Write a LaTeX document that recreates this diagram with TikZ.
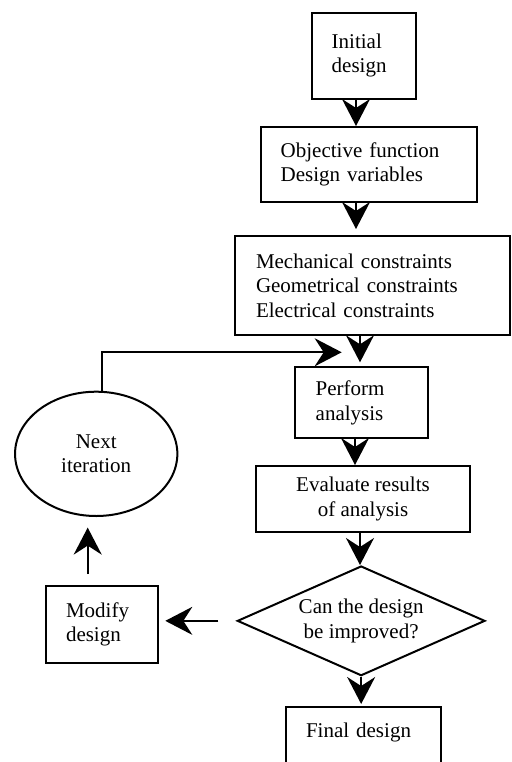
\documentclass[tikz,border=0pt]{standalone}
\usepackage{fontspec}
\setmainfont{Liberation Serif}
\usetikzlibrary{arrows.meta,shapes.geometric}
\begin{document}
\begin{tikzpicture}[x=1bp,y=-1bp,
  every node/.style={font=\fontsize{21bp}{24.5bp}\selectfont},
  box/.style={draw, line width=2bp, rectangle, inner sep=0pt, align=left},
  arr/.style={line width=2bp, -{Stealth[length=27bp,width=28bp,inset=9bp]}}]
\useasboundingbox (0,0) rectangle (512,762);

\node[box, minimum width=104.3bp, minimum height=86bp, text width=64.3bp] (init) at (363.85,55.7) {Initial\\design};
\node[box, minimum width=216bp, minimum height=74.7bp, text width=176bp] (obj) at (368.7,164.35) {Objective function\\Design variables};
\node[box, minimum width=275bp, minimum height=99.3bp, text width=233bp] (con) at (372.5,285.35) {Mechanical constraints\\Geometrical constraints\\Electrical constraints};
\node[box, minimum width=133bp, minimum height=71bp, text width=91bp] (perf) at (361.2,402.8) {Perform\\analysis};
\node[box, align=center, minimum width=214bp, minimum height=66.3bp] (eval) at (363,499.15) {Evaluate results\\of analysis};
\node[draw, line width=2bp, diamond, aspect=2.26, inner sep=0pt, minimum width=247.7bp, minimum height=109.7bp, align=center] (dia) at (361.15,620.85) {Can the design\\be improved?};
\node[box, anchor=north, minimum width=155bp, text width=114.4bp, inner ysep=15.7bp, text depth=60bp] (final) at (363.2,706) {Final design};
\node[box, minimum width=112bp, minimum height=77.6bp, text width=71.4bp] (mod) at (101.7,624.5) {Modify\\design};
\node[draw, line width=2bp, ellipse, inner sep=0pt, minimum width=162.3bp, minimum height=124.3bp, align=center] (iter) at (96.2,453.85) {Next\\iteration};

\coordinate (loopend) at (341.7,352.3);

\draw[arr] ([xshift=-7.85bp]init.south) -- ([xshift=-7.85bp]init.south |- obj.north);
\draw[arr, shorten >=5.7bp] ([xshift=-12.7bp]obj.south) -- ([xshift=-12.7bp]obj.south |- con.north);
\draw[arr, shorten >=4bp] ([xshift=-12.5bp]con.south) -- ([xshift=-12.5bp]con.south |- perf.north);
\draw[arr] ([xshift=5.5bp]iter.north) |- (loopend);
\draw[arr] ([xshift=-6.2bp]perf.south) -- ([xshift=-6.2bp]perf.south |- eval.north);
\draw[arr] ([xshift=-3bp]eval.south) -- ([xshift=-3bp]eval.south |- dia.north);
\draw[arr, shorten >=2bp] (dia.south) -- (dia.south |- final.north);
\draw[arr, shorten <=18bp, shorten >=6.6bp] (dia.west) -- (dia.west -| mod.east);
\draw[arr, shorten <=10.7bp, shorten >=10.6bp] ([xshift=-14bp]mod.north) -- ([xshift=-14bp]mod.north |- iter.south);
\end{tikzpicture}
\end{document}
